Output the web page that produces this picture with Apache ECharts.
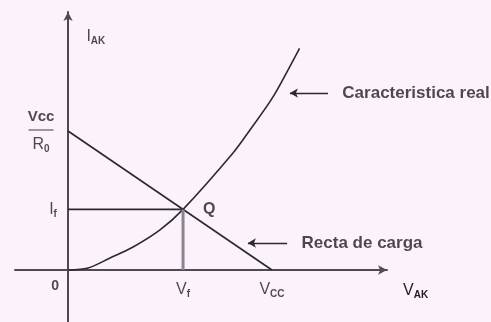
<!DOCTYPE html>
<html>
<head>
<meta charset="utf-8">
<script src="https://cdn.jsdelivr.net/npm/echarts@6/dist/echarts.min.js"></script>
<style>
html, body { margin: 0; padding: 0; background: #fcf2fb; }
#chart { width: 491px; height: 322px; }
</style>
</head>
<body>
<div id="chart"></div>
<script>
// operating point values (arbitrary units: VCC = 10, VCC/R0 = 10)
var VCC = 10;
var VCC_R0 = 10;
var VF = 5.64;
var IF = 4.36;

// load line end points
var loadV = [0, VCC];
var loadI = [VCC_R0, 0];

// real diode characteristic
var curveV = [0, 0.98, 2.06, 3.19, 4.51, 5.64, 8.09, 8.92, 10.05, 11.23, 11.35];
var curveI = [0, 0.14, 0.86, 1.65, 2.88, 4.36, 8.42, 10.07, 12.45, 15.61, 15.95];

// tick labels
var xTickValues = [VF, VCC];
var xTickLabels = ['{m|V}{s|f}', '{m|V}{s|CC}'];
var yTickValues = [IF, VCC_R0];
var yTickLabels = ['{m|I}{s|f}', '{n|Vcc}\n{bar| }\n{m|R}{s|0}'];

var ink = '#2b2833';
var txt = '#1f1c24';

function pairs(xs, ys) {
    var out = [];
    for (var i = 0; i < xs.length; i++) {
        out.push([xs[i], ys[i]]);
    }
    return out;
}

var rich = {
    m: { fontSize: 16, color: txt, fontFamily: 'Liberation Sans' },
    n: { fontSize: 15, color: txt, fontFamily: 'Liberation Sans', fontWeight: 'bold', lineHeight: 17 },
    s: { fontSize: 10, color: txt, fontFamily: 'Liberation Sans', fontWeight: 'bold', padding: [9, 0, 0, 0] },
    bar: { width: 25, height: 1.5, backgroundColor: '#5f5866', lineHeight: 10, fontSize: 1 }
};

// tick labels and notes are drawn as labels on invisible points
var notes = [];
for (var i = 0; i < xTickValues.length; i++) {
    notes.push({ value: [xTickValues[i], 0], text: xTickLabels[i], label: { position: 'bottom', distance: 10 } });
}
for (var j = 0; j < yTickValues.length; j++) {
    notes.push({ value: [0, yTickValues[j]], text: yTickLabels[j], label: { position: 'left', distance: j == 0 ? 15 : 27, align: 'center' } });
}
notes.push({ value: [VF, IF], text: 'Q', label: { position: 'right', distance: 20, fontSize: 16, fontWeight: 'bold' } });
notes.push({ value: [0, 0], text: '0', label: { position: 'left', offset: [-4, 16], fontSize: 14, fontWeight: 'bold' } });
notes.push({ value: [0.9, 16.8], text: '{m|I}{s|AK}', label: { position: 'right', distance: 0 } });
notes.push({ value: [13.45, 12.73], text: 'Caracteristica real', label: { position: 'right', distance: 0, fontSize: 17, fontWeight: 'bold' } });
notes.push({ value: [11.45, 1.94], text: 'Recta de carga', label: { position: 'right', distance: 0, fontSize: 17, fontWeight: 'bold' } });

var e = echarts.init(document.getElementById('chart'));
var option = {
    backgroundColor: '#fcf2fb',
    animation: false,
    grid: { left: 15, right: 104, top: 12, bottom: 0, outerBoundsMode: 'none' },
    xAxis: {
        type: 'value',
        min: -2.6,
        max: 15.64,
        splitLine: { show: false },
        axisTick: { show: false },
        axisLabel: { show: false },
        axisLine: {
            onZero: true,
            symbol: ['none', 'arrow'],
            symbolSize: [7, 9],
            lineStyle: { color: '#4e4953', width: 2 }
        },
        name: '{m|V}{s|AK}',
        nameLocation: 'end',
        nameGap: 16,
        nameTextStyle: { rich: rich, align: 'left', verticalAlign: 'top', padding: [11, 0, 0, 0] }
    },
    yAxis: {
        type: 'value',
        min: -3.74,
        max: 18.56,
        splitLine: { show: false },
        axisTick: { show: false },
        axisLabel: { show: false },
        axisLine: {
            onZero: true,
            symbol: ['none', 'arrow'],
            symbolSize: [7, 9],
            lineStyle: { color: '#4e4953', width: 2 }
        }
    },
    series: [
        {
            name: 'Recta de carga',
            type: 'line',
            data: pairs(loadV, loadI),
            showSymbol: false,
            lineStyle: { color: ink, width: 1.6 }
        },
        {
            name: 'Caracteristica real',
            type: 'line',
            data: pairs(curveV, curveI),
            smooth: 0.3,
            showSymbol: false,
            lineStyle: { color: ink, width: 1.6 }
        },
        {
            name: 'If',
            type: 'line',
            data: [[0, IF], [VF, IF]],
            showSymbol: false,
            lineStyle: { color: ink, width: 1.8 }
        },
        {
            name: 'Vf',
            type: 'line',
            data: [[VF, 0], [VF, IF]],
            showSymbol: false,
            lineStyle: { color: '#8c8493', width: 3 }
        },
        {
            name: 'notes',
            type: 'scatter',
            clip: false,
            symbolSize: 0,
            silent: true,
            label: {
                show: true,
                color: txt,
                fontFamily: 'Liberation Sans',
                rich: rich,
                formatter: function (p) { return p.data.text; }
            },
            data: notes,
            markLine: {
                silent: true,
                symbol: ['arrow', 'none'],
                symbolSize: [7, 8],
                label: { show: false },
                lineStyle: { color: ink, width: 1.4, type: 'solid' },
                data: [
                    [{ coord: [10.88, 12.73] }, { coord: [12.75, 12.73] }],
                    [{ coord: [8.82, 1.94] }, { coord: [10.74, 1.94] }]
                ]
            }
        }
    ]
};
e.setOption(option);
</script>
</body>
</html>
